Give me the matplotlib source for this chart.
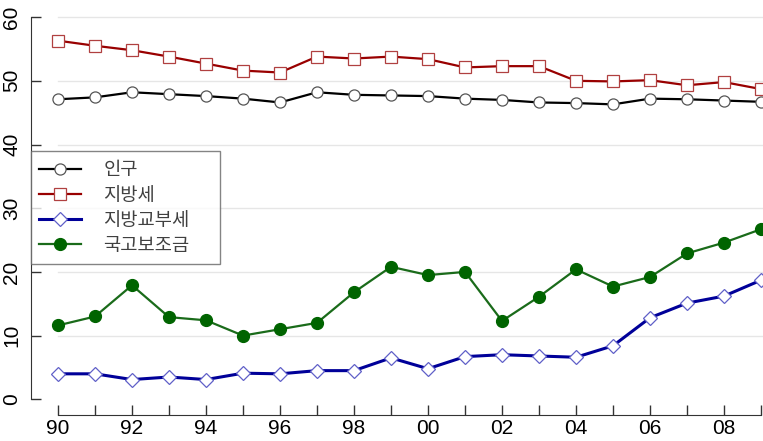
import numpy as np
import matplotlib.pyplot as plt

plt.rcParams['font.family'] = ['Noto Sans CJK KR', 'DejaVu Sans']

# data (share, %)
years = np.arange(1990, 2010)
population = [47.1, 47.4, 48.2, 47.9, 47.6, 47.2, 46.6, 48.2, 47.8, 47.7,
              47.6, 47.2, 47.0, 46.6, 46.5, 46.3, 47.2, 47.1, 46.9, 46.7]
local_tax = [56.3, 55.5, 54.8, 53.8, 52.7, 51.6, 51.3, 53.8, 53.5, 53.8,
             53.4, 52.1, 52.3, 52.3, 50.0, 49.9, 50.1, 49.3, 49.8, 48.7]
shared_tax = [4.0, 4.0, 3.1, 3.5, 3.1, 4.1, 4.0, 4.5, 4.5, 6.5,
              4.8, 6.7, 7.0, 6.8, 6.6, 8.4, 12.8, 15.1, 16.2, 18.7]
subsidy = [11.6, 13.0, 17.9, 12.9, 12.4, 10.0, 11.0, 12.0, 16.8, 20.8,
           19.5, 20.0, 12.3, 16.1, 20.4, 17.7, 19.2, 22.9, 24.6, 26.7]
labels = ['인구', '지방세', '지방교부세', '국고보조금']
xtick_years = np.arange(1990, 2009, 2)
xtick_labels = ['90', '92', '94', '96', '98', '00', '02', '04', '06', '08']
yticks = [0, 10, 20, 30, 40, 50, 60]

W, H = 763, 441
fig = plt.figure(figsize=(W / 100, H / 100), dpi=100)
ax = fig.add_axes([31 / W, (H - 415) / H, (W - 31) / W, 415 / H])
ax.set_xlim(1990 - 27 / 37, 1990 + (763 - 58) / 37)
ax.set_ylim((399.3 - 415) / 6.37, 399.3 / 6.37)

# light horizontal grid
for v in yticks[1:]:
    ax.plot([1990, 2010], [v, v], color='#e6e6e6', lw=1, zorder=0)

ax.plot(years, population, color='black', lw=1.6, marker='o', ms=8,
        mfc='white', mec='#555555', mew=0.9, label=labels[0])
ax.plot(years, local_tax, color='#990000', lw=1.6, marker='s', ms=8,
        mfc='white', mec='#b04040', mew=0.9, label=labels[1])
ax.plot(years, shared_tax, color='#000099', lw=2.2, marker='D', ms=7,
        mfc='white', mec='#6060c8', mew=0.9, label=labels[2])
ax.plot(years, subsidy, color='#1a6b1a', lw=1.6, marker='o', ms=8.5,
        mfc='#006400', mec='#006400', label=labels[3])

for s in ['top', 'right']:
    ax.spines[s].set_visible(False)
ax.spines['left'].set_bounds(0, 60)
ax.spines['bottom'].set_bounds(1990, 2009)
ax.spines['left'].set_color('#333333')
ax.spines['bottom'].set_color('#333333')

ax.set_yticks(yticks)
ax.set_xticks(years)
ax.set_xticklabels([xtick_labels[list(xtick_years).index(y)] if y in xtick_years else ''
                    for y in years])
ax.tick_params(axis='y', direction='in', length=7, width=1, color='#333333',
               pad=7, labelsize=15, labelrotation=90)
ax.tick_params(axis='x', direction='in', length=7, width=1, color='#333333',
               pad=3, labelsize=15)
for t in ax.get_yticklabels():
    t.set_family('Liberation Sans')
    t.set_va('center')
for t in ax.get_xticklabels():
    t.set_family('Liberation Sans')

# legend box: x 31..220 px, y 151..265 px
leg = fig.legend(loc='upper left',
                 bbox_to_anchor=(31 / W, 1 - 265 / H, 189 / W, 114 / H),
                 bbox_transform=fig.transFigure, mode='expand', borderaxespad=0,
                 fontsize=13.5, frameon=True, fancybox=False, edgecolor='#666666',
                 handlelength=2.2, handletextpad=1.2, labelspacing=0.22,
                 borderpad=0.45)
leg.get_frame().set_linewidth(1.0)
for t in leg.get_texts():
    t.set_color('#404040')

fig.savefig('out.png', dpi=100)
